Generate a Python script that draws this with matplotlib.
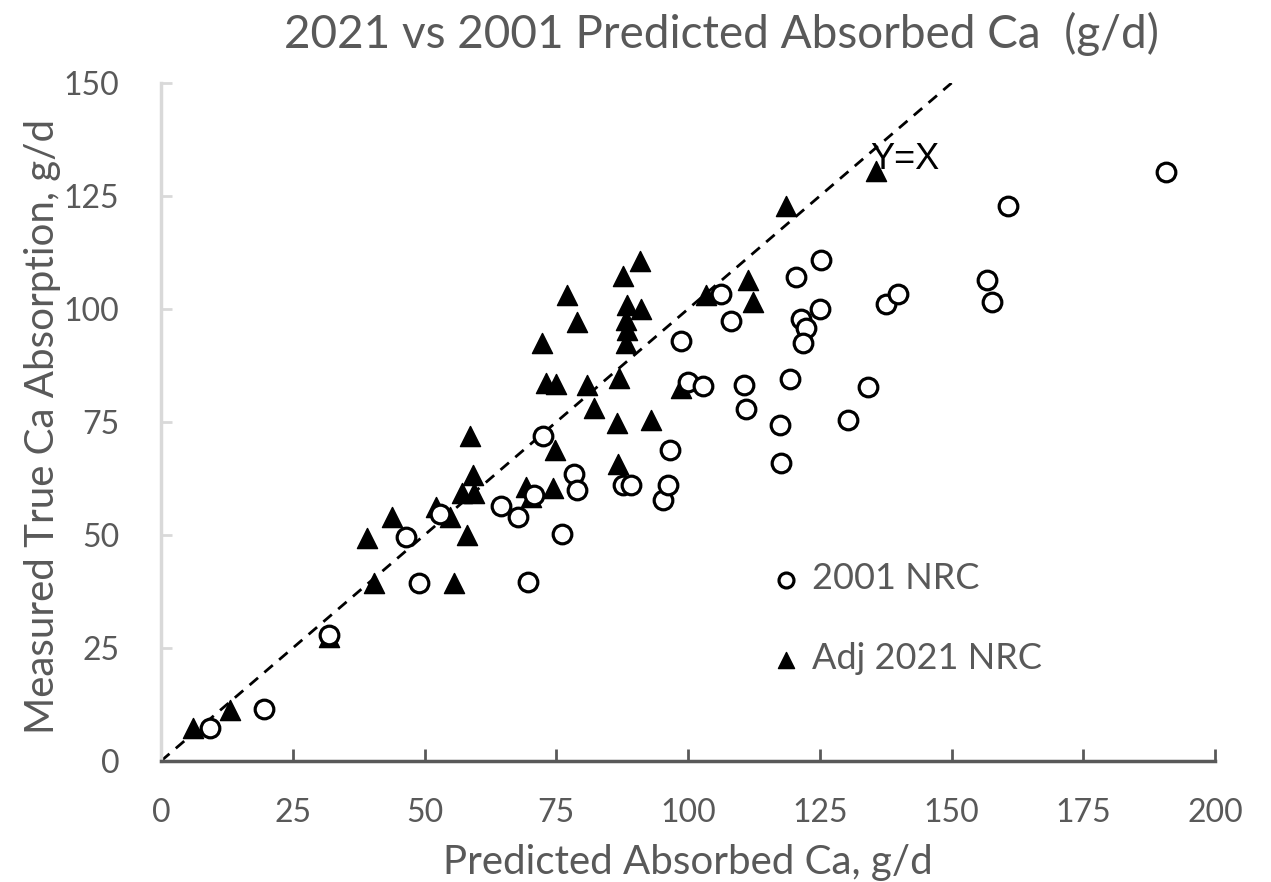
import matplotlib
matplotlib.use("Agg")
import matplotlib.pyplot as plt

# 2001 NRC predicted vs measured (g/d)
nrc2001_x = [9.3, 19.5, 31.8, 46.4, 48.9, 53.0, 64.6, 67.8, 70.8, 69.7, 72.4, 76.0,
             78.3, 79.0, 87.6, 89.2, 95.3, 96.1, 96.5, 98.7, 99.9, 102.8, 106.3, 108.2,
             110.7, 111.0, 117.4, 117.6, 119.4, 120.5, 121.5, 122.4, 121.8, 125.0, 125.3,
             130.3, 134.2, 137.6, 139.9, 156.7, 157.6, 160.8, 190.7]
nrc2001_y = [7.2, 11.4, 27.8, 49.6, 39.4, 54.6, 56.4, 54.0, 58.8, 39.5, 71.9, 50.3,
             63.6, 60.0, 61.0, 61.0, 57.7, 61.0, 68.9, 92.9, 83.9, 83.0, 103.3, 97.4,
             83.2, 77.8, 74.3, 66.0, 84.6, 107.1, 97.7, 95.7, 92.4, 100.1, 110.8,
             75.4, 82.8, 101.2, 103.3, 106.4, 101.6, 122.8, 130.4]

# Adjusted 2021 NRC predicted vs measured (g/d)
nrc2021_x = [6.1, 13.1, 31.8, 39.0, 40.4, 43.9, 52.1, 54.9, 55.6, 57.2, 59.4, 58.1,
             58.6, 59.1, 69.2, 70.2, 72.2, 73.0, 75.0, 74.3, 74.7, 77.1, 78.9, 80.8,
             82.2, 86.5, 86.8, 86.9, 87.6, 88.2, 88.5, 88.2, 88.5, 90.9, 91.1, 93.0,
             98.7, 103.4, 111.3, 112.3, 118.6, 135.7]
nrc2021_y = [7.2, 11.3, 27.5, 49.3, 39.3, 54.0, 56.3, 54.0, 39.3, 59.2, 59.3, 50.0,
             71.8, 63.3, 60.7, 58.5, 92.5, 83.6, 83.4, 60.3, 68.8, 103.1, 97.2, 83.2,
             78.0, 74.7, 65.8, 84.7, 107.2, 92.4, 95.4, 97.6, 100.9, 110.7, 100.1, 75.4,
             82.5, 103.1, 106.4, 101.6, 122.8, 130.5]

x_ticks = [0, 25, 50, 75, 100, 125, 150, 175, 200]
y_ticks = [0, 25, 50, 75, 100, 125, 150]
line_ends = [0, 150]

gray = "#595959"
plt.rcParams["font.family"] = ["Lato", "DejaVu Sans"]

fig = plt.figure(figsize=(12.71, 8.82), dpi=100)
ax = fig.add_axes([0.1267, 0.1372, 0.8293, 0.7687])

ax.plot(line_ends, line_ends, color="black", lw=2, linestyle=(0, (4, 3)), zorder=1)
ax.scatter(nrc2001_x, nrc2001_y, s=180, facecolors="white", edgecolors="black",
           linewidths=2.3, marker="o", label="2001 NRC", zorder=3)
ax.scatter(nrc2021_x, nrc2021_y, s=210, color="black", marker="^",
           label="Adj 2021 NRC", zorder=2)

ax.text(134.5, 133, "Y=X", fontsize=26, color="black", va="center",
        family="Liberation Sans", zorder=4)

ax.set_xlim(0, 200)
ax.set_ylim(0, 150)
ax.set_xticks(x_ticks)
ax.set_yticks(y_ticks)

for side in ["top", "right"]:
    ax.spines[side].set_visible(False)
ax.spines["left"].set_color("#d9d9d9")
ax.spines["left"].set_linewidth(2.5)
ax.spines["bottom"].set_color(gray)
ax.spines["bottom"].set_linewidth(2.5)

ax.tick_params(axis="x", direction="in", length=9, width=2, color=gray,
               labelsize=23, labelcolor=gray, pad=27)
ax.tick_params(axis="y", direction="in", length=8, width=2, color="#d9d9d9",
               labelsize=23, labelcolor=gray, pad=30)

ax.set_xlabel("Predicted Absorbed Ca, g/d", fontsize=29, color=gray)
ax.set_ylabel("Measured True Ca Absorption, g/d", fontsize=29, color=gray)
ax.xaxis.set_label_coords(0.5, -0.122)
ax.yaxis.set_label_coords(-0.095, 0.493)

fig.text(0.568, 0.962, "2021 vs 2001 Predicted Absorbed Ca  (g/d)", fontsize=33,
         color=gray, ha="center", va="center")

ax.legend(loc="upper left", bbox_to_anchor=(0.559, 0.32), frameon=False,
          fontsize=26, labelcolor=gray, handlelength=1.0, handletextpad=0.2,
          labelspacing=1.3, borderpad=0, markerscale=0.8)

fig.savefig("out.png", dpi=100)
